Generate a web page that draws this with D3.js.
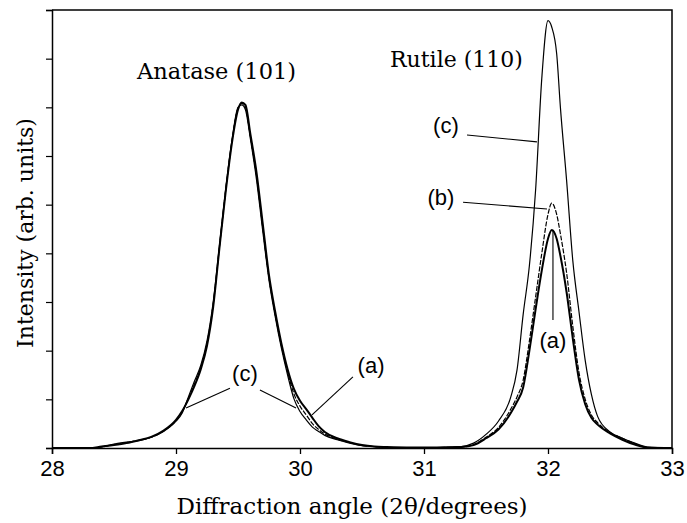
<html>
<head>
<meta charset="utf-8">
<style>
  body { margin: 0; background: #fff; }
  .curve { fill: none; stroke: #000; }
  .frame { fill: none; stroke: #000; stroke-width: 1.5; }
  .serif { font-family: "DejaVu Serif", serif; }
  .sans { font-family: "Liberation Sans", Arial, sans-serif; }
</style>
</head>
<body>
<svg id="chart" width="687" height="523"></svg>
<script src="https://cdn.jsdelivr.net/npm/d3@7"></script>
<script>
// diffraction angle (2theta, degrees) shared by every trace
const angle = [28.0, 28.3, 28.4, 28.5, 28.6, 28.7, 28.8, 28.9, 29.0, 29.05, 29.1, 29.15, 29.2, 29.25,
  29.3, 29.35, 29.4, 29.45, 29.5, 29.53, 29.56, 29.6, 29.65, 29.7, 29.75, 29.8, 29.85, 29.9, 29.95,
  30.0, 30.05, 30.1, 30.15, 30.2, 30.3, 30.4, 30.5, 30.6, 30.7, 30.9, 31.1, 31.3,
  31.4, 31.5, 31.6, 31.7, 31.75, 31.8, 31.85, 31.9, 31.95, 32.0, 32.03, 32.07, 32.1, 32.15,
  32.2, 32.25, 32.3, 32.35, 32.4, 32.5, 32.6, 32.7, 32.8, 33.0]

// intensity (arb. units)
const intensityA = [0, 0, 0.03, 0.06, 0.1, 0.16, 0.23, 0.36, 0.58, 0.76, 1.0, 1.28, 1.62, 2.1,
  2.9, 4.1, 5.25, 6.25, 6.95, 7.1, 7.05, 6.45, 5.65, 4.6, 3.55, 2.8, 2.15, 1.62, 1.22,
  0.97, 0.8, 0.62, 0.45, 0.33, 0.2, 0.12, 0.06, 0.03, 0.02, 0.01, 0.01, 0.02,
  0.06, 0.2, 0.38, 0.72, 0.95, 1.25, 2.0, 2.85, 3.65, 4.3, 4.48, 4.3, 3.95, 3.2,
  2.25, 1.4, 0.9, 0.62, 0.48, 0.3, 0.17, 0.07, 0.01, 0]

const intensityB = [0, 0, 0.02, 0.07, 0.11, 0.16, 0.22, 0.35, 0.56, 0.74, 1.02, 1.32, 1.66, 2.15,
  2.95, 4.12, 5.28, 6.28, 6.98, 7.08, 7.0, 6.4, 5.58, 4.52, 3.5, 2.75, 2.1, 1.56, 1.12,
  0.86, 0.68, 0.5, 0.38, 0.29, 0.18, 0.11, 0.05, 0.03, 0.01, 0.01, 0.01, 0.02,
  0.07, 0.22, 0.42, 0.8, 1.05, 1.4, 2.2, 3.1, 4.0, 4.8, 5.03, 4.8, 4.4, 3.6,
  2.5, 1.55, 1.0, 0.68, 0.52, 0.32, 0.2, 0.09, 0.01, 0]

const intensityC = [0, 0, 0.02, 0.08, 0.12, 0.15, 0.22, 0.34, 0.55, 0.72, 1.05, 1.38, 1.7, 2.2,
  3.0, 4.15, 5.3, 6.3, 7.0, 7.05, 6.95, 6.35, 5.5, 4.45, 3.45, 2.7, 2.05, 1.5, 1.02,
  0.75, 0.58, 0.43, 0.34, 0.26, 0.17, 0.1, 0.05, 0.03, 0.01, 0.01, 0.01, 0.03,
  0.1, 0.28, 0.55, 1.05, 1.6, 2.75, 3.75, 5.3, 7.6, 8.78, 8.65, 8.1, 7.0, 5.5,
  3.85, 2.8, 1.8, 1.1, 0.65, 0.33, 0.2, 0.1, 0.02, 0]

const xTicks = [28, 29, 30, 31, 32, 33]
const yTicks = [0, 1, 2, 3, 4, 5, 6, 7, 8, 9]

let svg = d3.select("#chart")

let plotLeft = 52, plotRight = 672, plotTop = 10, plotBottom = 448

let xScale = d3.scaleLinear().domain([28, 33]).range([plotLeft, plotRight])
let yScale = d3.scaleLinear().domain([0, 9]).range([plotBottom, plotTop])

// frame: top and right edges
svg.append("path")
    .attr("class", "frame")
    .attr("d", `M${plotLeft},${plotTop}H${plotRight}V${plotBottom}`)

// bottom axis
let xAxis = svg.append("g")
    .attr("transform", "translate(0," + plotBottom + ")")
    .call(d3.axisBottom(xScale).tickValues(xTicks).tickSize(6).tickPadding(6).tickFormat(d3.format("d")))
xAxis.select(".domain").attr("stroke-width", 1.5)
xAxis.selectAll(".tick line").attr("stroke-width", 1.3)
xAxis.selectAll("text").attr("class", "sans").attr("font-size", 22).attr("fill", "#000")

// left axis, ticks only
let yAxis = svg.append("g")
    .attr("transform", "translate(" + plotLeft + ",0)")
    .call(d3.axisLeft(yScale).tickValues(yTicks).tickSize(6).tickFormat(""))
yAxis.select(".domain").attr("stroke-width", 1.5)
yAxis.selectAll(".tick line").attr("stroke-width", 1.2)

// traces
let line = d3.line()
    .x((d, i) => xScale(angle[i]))
    .y(d => yScale(d))
    .curve(d3.curveMonotoneX)

svg.append("path").datum(intensityC).attr("class", "curve").attr("stroke-width", 1.2).attr("d", line)
svg.append("path").datum(intensityB).attr("class", "curve").attr("stroke-width", 1.2)
    .attr("stroke-dasharray", "5,1.5").attr("d", line)
svg.append("path").datum(intensityA).attr("class", "curve").attr("stroke-width", 2).attr("d", line)

// peak names
svg.append("text").attr("class", "serif").attr("font-size", 22.5)
    .attr("x", xScale(28.685)).attr("y", yScale(7.58)).text("Anatase (101)")
svg.append("text").attr("class", "serif").attr("font-size", 22)
    .attr("x", xScale(30.726)).attr("y", yScale(7.83)).text("Rutile (110)")

// sample labels with leader lines
let notes = [
  { text: "(c)", at: [31.177, 6.47], lines: [[[31.347, 6.43], [31.911, 6.29]]] },
  { text: "(b)", at: [31.137, 4.99], lines: [[[31.315, 5.05], [31.992, 4.91]]] },
  { text: "(a)", at: [32.04, 2.05], lines: [[[32.04, 2.63], [32.04, 4.48]]] },
  { text: "(c)", at: [29.556, 1.38], lines: [[[29.435, 1.23], [29.081, 0.82]], [[29.677, 1.19], [29.968, 0.82]]] },
  { text: "(a)", at: [30.573, 1.54], lines: [[[30.427, 1.46], [30.097, 0.68]]] }
]

notes.forEach(n => {
  svg.append("text").attr("class", "sans").attr("font-size", 22)
      .attr("text-anchor", "middle")
      .attr("x", xScale(n.at[0])).attr("y", yScale(n.at[1])).text(n.text)
  n.lines.forEach(l => {
    svg.append("line")
        .attr("x1", xScale(l[0][0])).attr("y1", yScale(l[0][1]))
        .attr("x2", xScale(l[1][0])).attr("y2", yScale(l[1][1]))
        .attr("stroke", "#000").attr("stroke-width", 1.1)
  })
})

// axis titles
svg.append("text").attr("class", "serif").attr("font-size", 22)
    .attr("text-anchor", "middle")
    .attr("transform", "translate(33,233) rotate(-90)")
    .text("Intensity (arb. units)")
svg.append("text").attr("class", "serif").attr("font-size", 23)
    .attr("text-anchor", "middle")
    .attr("x", 352).attr("y", 514)
    .text("Diffraction angle (2θ/degrees)")
</script>
</body>
</html>
